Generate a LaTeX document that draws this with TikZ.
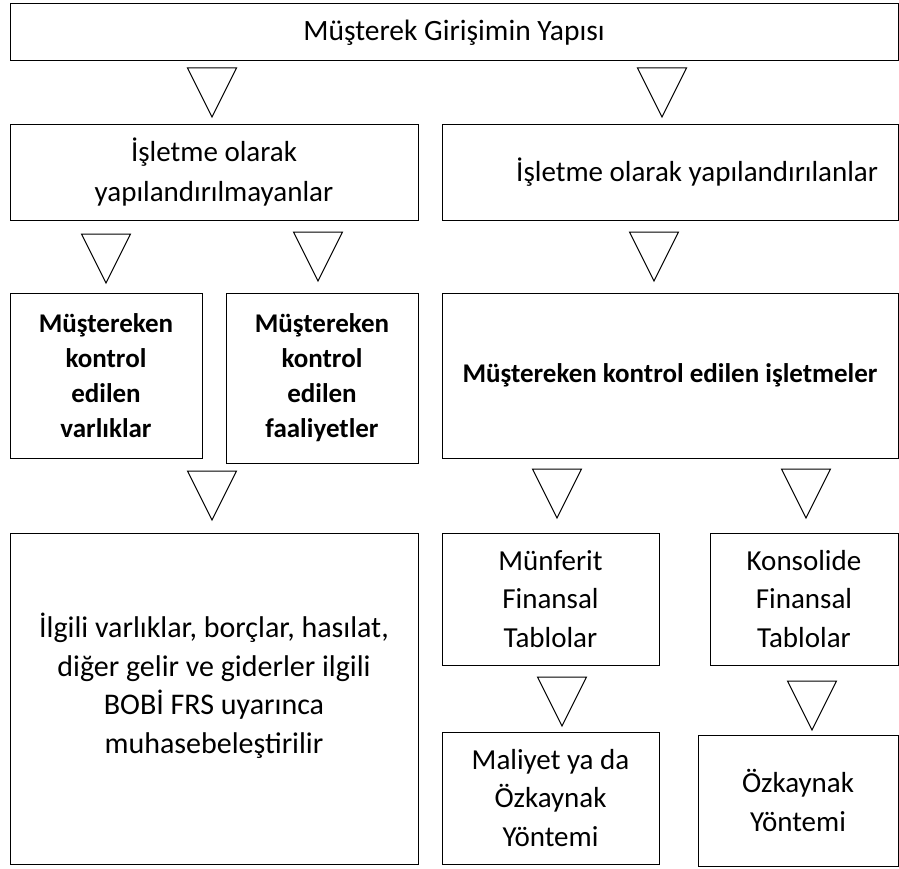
\documentclass[tikz,border=0pt]{standalone}
\usepackage{fontspec}
\setmainfont{Carlito}
\begin{document}
\begin{tikzpicture}[x=1pt,y=-1pt,
  box/.style={draw,line width=1pt,inner sep=0pt,outer sep=0pt,anchor=north west,
    align=center,font=\fontsize{29}{38.5}\selectfont},
  boldbox/.style={box,font=\bfseries\fontsize{27}{35}\selectfont},
  tri/.style={draw,line width=1pt,line join=miter}]
  \useasboundingbox (0,0) rectangle (899,869);
  % boxes
  \node[box,minimum width=888,minimum height=57,font=\fontsize{29.5}{38.5}\selectfont] (yapi) at (10,4) {Müşterek Girişimin Yapısı};
  \node[box,minimum width=408,minimum height=95,font=\fontsize{29}{40}\selectfont] (degil) at (10,125) {İşletme olarak\\yapılandırılmayanlar};
  \node[box,minimum width=456,minimum height=95,text width=416,align=flush right,inner xsep=20] (isletme) at (442,125) {İşletme olarak yapılandırılanlar};
  \node[boldbox,minimum width=192,minimum height=165] (varlik) at (10,293) {Müştereken\\kontrol\\edilen\\varlıklar};
  \node[boldbox,minimum width=192,minimum height=170] (faaliyet) at (226,293) {Müştereken\\kontrol\\edilen\\faaliyetler};
  \node[boldbox,minimum width=456,minimum height=165] (mkei) at (442,293) {Müştereken kontrol edilen işletmeler};
  \node[box,minimum width=408,minimum height=331,font=\fontsize{30}{38.5}\selectfont] (bobi) at (10,533) {İlgili varlıklar, borçlar, hasılat,\\diğer gelir ve giderler ilgili\\BOBİ FRS uyarınca\\muhasebeleştirilir\\[-8pt]\mbox{}};
  \node[box,minimum width=217,minimum height=132] (munferit) at (442,533) {Münferit\\Finansal\\Tablolar};
  \node[box,minimum width=188,minimum height=132] (konsolide) at (710,533) {Konsolide\\Finansal\\Tablolar};
  \node[box,minimum width=217,minimum height=132] (maliyet) at (442,732) {Maliyet ya da\\Özkaynak\\Yöntemi};
  \node[box,minimum width=200,minimum height=131] (ozkaynak) at (698,735) {Özkaynak\\Yöntemi};
  % triangles
  \foreach \x/\y in {212/68, 662/68, 106/234, 318/232, 654/232,
                     212/471, 557/469, 806/469, 562/677, 812/681}
    \draw[tri] (\x-24.5,\y) -- ++(49,0) -- ++(-24.5,49) -- cycle;
\end{tikzpicture}
\end{document}
